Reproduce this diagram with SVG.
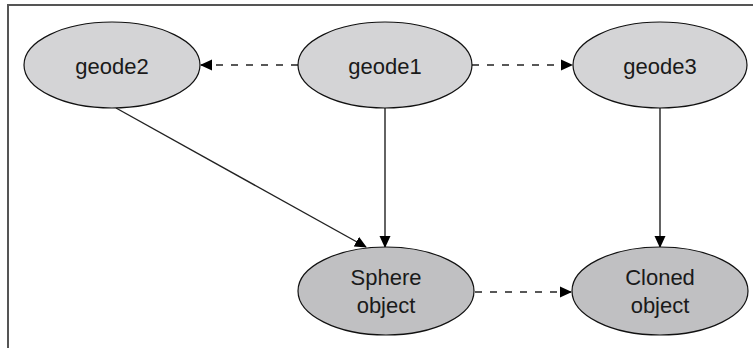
<svg xmlns="http://www.w3.org/2000/svg" width="753" height="348" viewBox="0 0 753 348">
<style>
.n1{fill:#d4d4d6;stroke:#111;stroke-width:1.2}
.n2{fill:#c0c0c2;stroke:#111;stroke-width:1.2}
.t{font-family:"Liberation Sans",Arial,sans-serif;font-size:22px;fill:#1a1a1a;text-anchor:middle}
.c{stroke:#222;stroke-width:1.4;fill:none}
.d{stroke-dasharray:7,8}
.frame{stroke:#555;stroke-width:2;fill:none}
</style>
<defs>
<marker id="ah" markerWidth="12" markerHeight="12" refX="11" refY="6" orient="auto" markerUnits="userSpaceOnUse">
<path d="M0,0.5 L12,6 L0,11.5 Z" fill="#000"/>
</marker>
</defs>
<path class="frame" d="M8,348 V5 H753"/>
<g id="connectors">
<line class="c d" x1="298" y1="65" x2="201" y2="65" marker-end="url(#ah)"/>
<line class="c d" x1="472" y1="65" x2="572" y2="65" marker-end="url(#ah)"/>
<line class="c" x1="116" y1="108" x2="366" y2="247" marker-end="url(#ah)"/>
<line class="c" x1="385" y1="108" x2="385" y2="247" marker-end="url(#ah)"/>
<line class="c" x1="660" y1="108" x2="660" y2="247" marker-end="url(#ah)"/>
<line class="c d" x1="475" y1="292" x2="571" y2="292" marker-end="url(#ah)"/>
</g>
<g id="geode2"><ellipse class="n1" cx="112" cy="65" rx="88" ry="43"/><text class="t" x="112" y="74">geode2</text></g>
<g id="geode1"><ellipse class="n1" cx="385" cy="65" rx="87" ry="43"/><text class="t" x="385" y="74">geode1</text></g>
<g id="geode3"><ellipse class="n1" cx="660" cy="65" rx="87" ry="43"/><text class="t" x="660" y="74">geode3</text></g>
<g id="sphere"><ellipse class="n2" cx="386" cy="291" rx="88" ry="44"/><text class="t" x="386" y="285">Sphere</text><text class="t" x="386" y="313">object</text></g>
<g id="cloned"><ellipse class="n2" cx="660" cy="291" rx="88" ry="44"/><text class="t" x="660" y="285">Cloned</text><text class="t" x="660" y="313">object</text></g>
</svg>
